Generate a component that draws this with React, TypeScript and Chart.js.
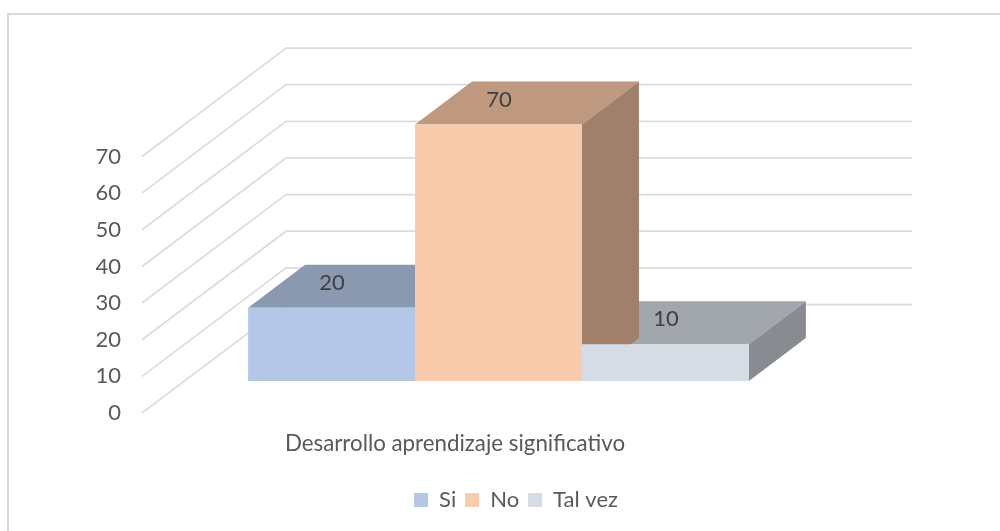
import React, { useEffect, useRef } from "react";
import { Chart, registerables } from "chart.js";

Chart.register(...registerables);

const categories = ["Desarrollo aprendizaje significativo"];
const seriesNames = ["Si", "No", "Tal vez"];
const siValues = [20];
const noValues = [70];
const talVezValues = [10];
const yTicks = { min: 0, max: 70, step: 10 };

const frontColors = ["#B4C7E7", "#F8CBAD", "#D6DCE5"];
const topColors = ["#8A99B0", "#BE987F", "#A2A6AD"];
const sideColors = ["#7E8CA2", "#A0806A", "#888C90"];
const TEXT = "#595959";
const LABEL = "#404040";
const GRID = "#DCDCDC";
const FRAME = "#D9D9D9";
const FONT = "Lato, 'Open Sans', sans-serif";

// oblique projection used for the fake depth
const WALL = { dx: 144, dy: -108.5 };
const BAR_PLANE = { dx: 43.5, dy: -32 };
const BAR_DEPTH = { dx: 57, dy: -43 };

const poly = (ctx: CanvasRenderingContext2D, pts: number[][], fill: string) => {
  ctx.beginPath();
  pts.forEach(([x, y], i) => (i ? ctx.lineTo(x, y) : ctx.moveTo(x, y)));
  ctx.closePath();
  ctx.fillStyle = fill;
  ctx.fill();
};

const depthPlugin = {
  id: "depth",
  afterLayout(chart: any) {
    // the legend is centred on the full frame, not on the plot
    chart.legend.left = 0;
    chart.legend.right = 1032;
  },
  beforeDraw(chart: any) {
    const { ctx, width, height } = chart;
    ctx.save();
    ctx.strokeStyle = FRAME;
    ctx.lineWidth = 2;
    ctx.beginPath();
    ctx.moveTo(8, height);
    ctx.lineTo(8, 14);
    ctx.lineTo(width, 14);
    ctx.stroke();
    ctx.restore();
  },
  beforeDatasetsDraw(chart: any) {
    const { ctx, scales, chartArea } = chart;
    const y = scales.y;
    ctx.save();
    ctx.strokeStyle = GRID;
    ctx.lineWidth = 1.75;
    for (const tick of y.ticks) {
      const py = y.getPixelForValue(tick.value);
      ctx.beginPath();
      ctx.moveTo(chartArea.left, py);
      ctx.lineTo(chartArea.left + WALL.dx, py + WALL.dy);
      ctx.lineTo(chartArea.right + WALL.dx, py + WALL.dy);
      ctx.stroke();
    }
    ctx.restore();

    [0, 2, 1].forEach((i) => {
      const el = chart.getDatasetMeta(i).data[0];
      const l = el.x - el.width / 2 + BAR_PLANE.dx;
      const r = el.x + el.width / 2 + BAR_PLANE.dx;
      const t = el.y + BAR_PLANE.dy;
      const b = el.base + BAR_PLANE.dy;
      const { dx, dy } = BAR_DEPTH;
      poly(ctx, [[l, t], [l + dx, t + dy], [r + dx, t + dy], [r, t]], topColors[i]);
      poly(ctx, [[r, t], [r + dx, t + dy], [r + dx, b + dy], [r, b]], sideColors[i]);
    });

    ctx.save();
    ctx.translate(BAR_PLANE.dx, BAR_PLANE.dy);
  },
  afterDatasetsDraw(chart: any) {
    const { ctx } = chart;
    ctx.restore();
    ctx.save();
    ctx.fillStyle = LABEL;
    ctx.font = `22px ${FONT}`;
    ctx.textAlign = "center";
    ctx.textBaseline = "middle";
    chart.data.datasets.forEach((ds: any, i: number) => {
      const el = chart.getDatasetMeta(i).data[0];
      ctx.fillText(
        String(ds.data[0]),
        el.x + BAR_PLANE.dx + BAR_DEPTH.dx / 2 - 28,
        el.y + BAR_PLANE.dy + BAR_DEPTH.dy / 2 - 3.5
      );
    });
    ctx.restore();
  },
};

export default function App() {
  const ref = useRef<HTMLCanvasElement>(null);
  useEffect(() => {
    document.body.style.margin = "0";
    document.body.style.background = "#fff";
    const values = [siValues, noValues, talVezValues];
    const chart = new Chart(ref.current as HTMLCanvasElement, {
      type: "bar",
      data: {
        labels: categories,
        datasets: seriesNames.map((name, i) => ({
          label: name,
          data: values[i],
          backgroundColor: frontColors[i],
          borderWidth: 0,
          clip: false as any,
          categoryPercentage: 0.8,
          barPercentage: 1,
        })),
      },
      options: {
        responsive: false,
        animation: false,
        events: [],
        layout: { padding: { top: 156.5, right: 232, left: 0, bottom: 10 } },
        scales: {
          x: {
            grid: { display: false, drawTicks: false },
            border: { display: false },
            ticks: { color: TEXT, font: { family: FONT, size: 22.3 }, padding: 17, maxRotation: 0 },
            afterFit(scale: any) {
              scale.height = 67;
            },
          },
          y: {
            min: yTicks.min,
            max: yTicks.max,
            grid: { display: false, drawTicks: false },
            border: { display: false },
            ticks: { stepSize: yTicks.step, color: TEXT, font: { family: FONT, size: 22 }, padding: 21 },
            afterFit(scale: any) {
              scale.width = 142;
            },
          },
        },
        plugins: {
          tooltip: { enabled: false },
          legend: {
            position: "bottom",
            labels: {
              color: TEXT,
              font: { family: FONT, size: 22 },
              boxWidth: 14,
              boxHeight: 14,
              padding: 9,
            },
          },
        },
      },
      plugins: [depthPlugin],
    } as any);
    return () => chart.destroy();
  }, []);
  return <canvas ref={ref} width={1000} height={531} style={{ display: "block" }} />;
}
